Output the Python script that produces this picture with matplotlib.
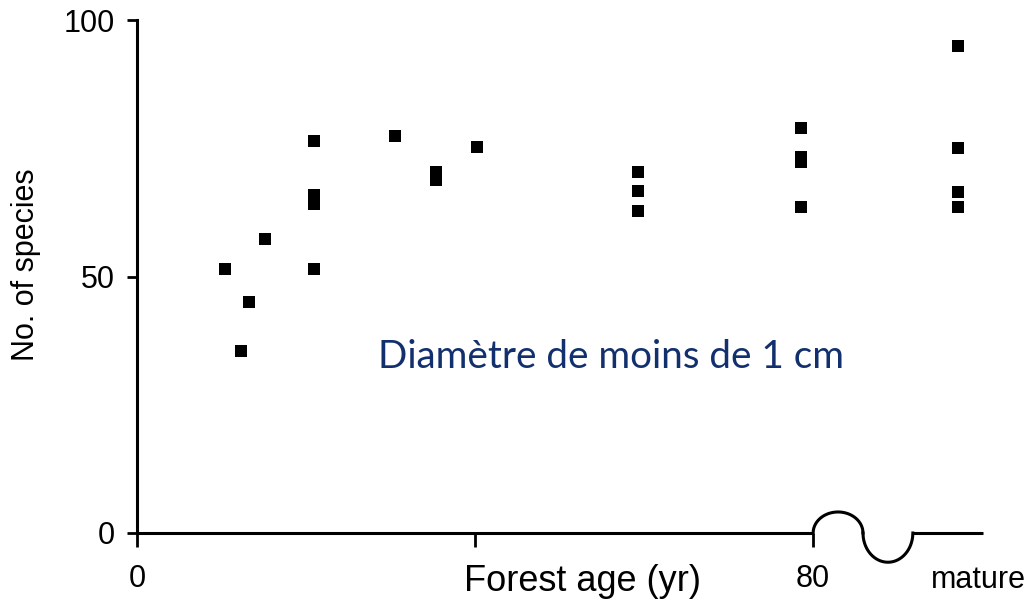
import numpy as np
import matplotlib
matplotlib.use("Agg")
import matplotlib.pyplot as plt

# ---------------- data ----------------
MATURE_POS = 97.1  # plotting position of the "mature" category
ages = [10.4, 12.3, 13.25, 15.1,
        21.0, 21.0, 21.0, 21.0,
        30.5, 35.4, 35.4, 40.2,
        59.3, 59.3, 59.3,
        78.6, 78.6, 78.6, 78.6,
        MATURE_POS, MATURE_POS, MATURE_POS, MATURE_POS]
species = [51.5, 35.5, 45.0, 57.4,
           76.4, 65.9, 64.1, 51.5,
           77.4, 70.3, 68.9, 75.2,
           70.4, 66.7, 62.8,
           79.0, 73.2, 72.4, 63.6,
           95.0, 75.1, 66.4, 63.6]
xtick_vals = [0, 40, 80]
xtick_labels = ["0", "", "80"]
ytick_vals = [0, 50, 100]
ytick_labels = ["0", "50", "100"]

W, H = 1031, 610
fig = plt.figure(figsize=(W / 100, H / 100), dpi=100)
left, right, top, bottom = 137, 983, 20, 533
ax = fig.add_axes([left / W, 1 - bottom / H, (right - left) / W, (bottom - top) / H])
ax.set_xlim(0, 100.1)
ax.set_ylim(0, 100)

ax.plot(ages, species, linestyle="none", marker="s", markersize=8,
        color="black", markeredgewidth=0, clip_on=False)

font = "Liberation Sans"
for s in ["top", "right", "bottom"]:
    ax.spines[s].set_visible(False)
ax.spines["left"].set_linewidth(2.2)

# x axis line with break
lw = 2.2
ax.plot([0, 80], [0, 0], color="black", lw=lw, clip_on=False, solid_capstyle="butt")
x1a, x1b = 80, 85.9
t = np.linspace(-1, 1, 200)
cx1 = (x1a + x1b) / 2
ax.plot(cx1 + t * (x1b - x1a) / 2, 4.1 * np.sqrt(1 - t ** 2), color="black", lw=lw, clip_on=False)
x2a, x2b = 85.9, 91.8
cx2 = (x2a + x2b) / 2
ax.plot(cx2 + t * (x2b - x2a) / 2, -5.7 * np.sqrt(1 - t ** 2), color="black", lw=lw, clip_on=False)
ax.plot([91.8, 100.1], [0, 0], color="black", lw=lw, clip_on=False, solid_capstyle="butt")

ax.set_xticks(xtick_vals)
ax.set_xticklabels(xtick_labels, fontsize=22, family=font)
ax.set_yticks(ytick_vals)
ax.set_yticklabels(ytick_labels, fontsize=22, family=font)
ax.tick_params(axis="x", direction="out", length=10, width=2, pad=12)
ax.tick_params(axis="y", direction="out", length=7, width=2, pad=9)

ax.text(99.6, -0.062, "mature", transform=ax.get_xaxis_transform(), ha="center",
        va="top", fontsize=22, family=font)

fig.text(582 / W, 1 - 591 / H, "Forest age (yr)", ha="center", va="baseline",
         fontsize=26, family=font)
fig.text(26 / W, 1 - 265 / H, "No. of species", ha="center", va="center",
         rotation=90, fontsize=22, family=font)

ax.text(28.5, 32.2, "Diamètre de moins de 1 cm", ha="left", va="baseline",
        fontsize=27.8, family="Lato", color="#13306e")

fig.savefig("out.png", dpi=100)
